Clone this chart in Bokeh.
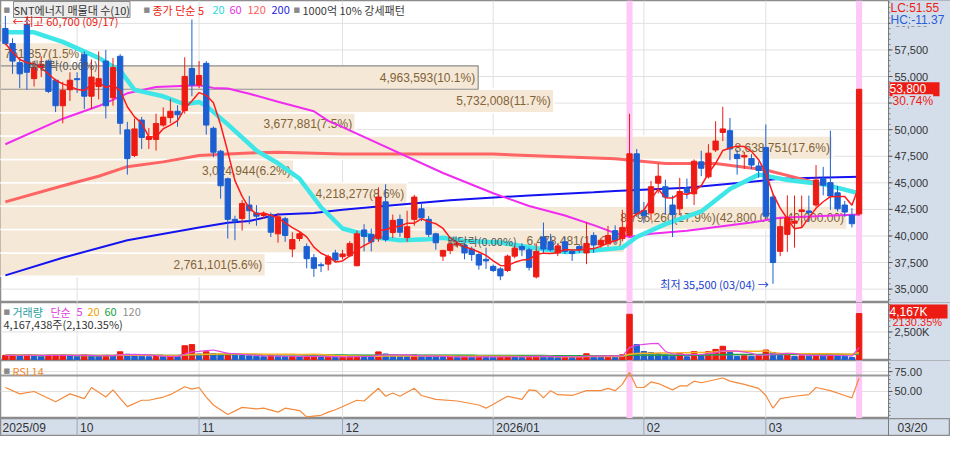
import numpy as np
import pandas as pd
from bokeh.plotting import figure
from bokeh.layouts import column
from bokeh.models import ColumnDataSource, Range1d, Label
from bokeh.core.properties import value
from bokeh.embed import file_html
from bokeh.resources import INLINE

# ---------------- data ----------------
start_date = "2025-09-17"
end_date = "2026-03-20"
holidays = ["2025-10-03", "2025-10-06", "2025-10-07", "2025-10-08", "2025-10-09", "2025-10-10",
            "2025-12-25", "2025-12-31", "2026-01-01", "2026-02-16", "2026-02-17", "2026-02-18",
            "2026-03-02"]

opens = [59520, 58100, 56300, 59900, 54800, 55850, 56450, 54650, 52250, 53750,
         54800, 57050, 53150, 54050, 56450, 53000, 56900, 49980, 47570, 50900,
         49080, 49080, 50430, 51130, 51730, 51790, 55760, 54200, 56240, 50130,
         47970, 45380, 41560, 41650, 42910, 42160, 41920, 42010, 40200, 41620,
         38770, 39760, 39000, 37950, 37290, 37350, 38400, 38040, 38130, 37200,
         40570, 40150, 39750, 43210, 40320, 41560, 39850, 41560, 42550, 41560,
         40200, 38100, 38640, 39150, 39150, 38770, 38250, 37800, 37140, 36900,
         36750, 38100, 39000, 38700, 36150, 39900, 39450, 38400, 39450, 38550,
         39000, 38400, 40050, 39150, 39300, 40500, 39750, 40060, 47730, 42400,
         42160, 44960, 44630, 42910, 42550, 44510, 43960, 46970, 45560, 48090,
         49740, 49900, 47670, 47430, 47280, 46580, 48330, 43660, 38550, 40150,
         41200, 42300, 42350, 42910, 45380, 45020, 44060, 42910, 41950, 42070]
highs = [60700, 58600, 56750, 60500, 56450, 56900, 56600, 54800, 54500, 55400,
         55400, 57350, 56600, 57350, 57500, 56750, 57100, 50730, 51050, 51200,
         50150, 51500, 52100, 52900, 52300, 56810, 60360, 56450, 56450, 50300,
         48100, 45500, 41900, 43370, 43750, 42900, 42300, 42200, 42160, 41800,
         40350, 40350, 39300, 38300, 37500, 38250, 38700, 38700, 39500, 40500,
         41110, 40700, 44570, 44870, 42010, 42010, 42370, 43870, 43000, 41860,
         40300, 38700, 39600, 39500, 39300, 39000, 38400, 38900, 37300, 37050,
         38250, 39100, 39300, 38900, 39300, 41260, 40200, 39300, 39900, 38700,
         39200, 41260, 40350, 39800, 40950, 41000, 42460, 51490, 48180, 43200,
         45170, 46820, 45300, 43800, 45470, 45400, 47200, 48020, 48630, 50790,
         52150, 51100, 48100, 47900, 47700, 47000, 50490, 43900, 41710, 43820,
         43800, 43800, 43800, 46670, 46500, 49900, 44700, 43300, 42600, 53800]
lows = [57950, 55250, 53900, 53750, 54050, 54950, 53450, 51650, 50600, 52700,
        53450, 51950, 51950, 52850, 51050, 52250, 49550, 45770, 47420, 48180,
        48180, 48030, 50280, 50600, 50280, 51500, 53140, 53900, 49530, 47420,
        43510, 39750, 39600, 40500, 41110, 40960, 41600, 39900, 39360, 39450,
        38000, 39500, 36960, 36150, 36600, 36750, 37500, 37800, 38000, 37140,
        38550, 38550, 39450, 39450, 39800, 39900, 39450, 40960, 41400, 39900,
        38700, 37650, 38300, 38900, 37800, 37650, 36830, 36900, 36600, 35840,
        36600, 37900, 38100, 36750, 36000, 38400, 38550, 38100, 38300, 37650,
        38400, 37350, 38400, 38900, 39000, 39300, 39500, 39900, 41800, 41200,
        41500, 44000, 42010, 39900, 42000, 43500, 42910, 45620, 45400, 47900,
        48930, 47120, 45770, 46300, 46300, 45470, 41600, 35500, 38100, 38500,
        38900, 40800, 41300, 42700, 43820, 42460, 42300, 41800, 40800, 41900]
closes = [58100, 56450, 55250, 55400, 55850, 56150, 53600, 52250, 53700, 54650,
          54700, 53150, 54950, 54800, 52250, 55850, 50600, 47270, 50070, 49260,
          49350, 50580, 51180, 51730, 51400, 55010, 54200, 55100, 50430, 47880,
          44720, 41560, 41410, 43060, 42370, 41860, 42070, 40350, 41800, 40050,
          39660, 40200, 37860, 36960, 37200, 38040, 37740, 38310, 39280, 40200,
          39960, 39450, 43660, 39660, 41470, 40350, 40870, 43660, 41710, 40150,
          39360, 38640, 39240, 39300, 38400, 38250, 37260, 37650, 36750, 36240,
          38100, 38850, 38700, 37050, 38550, 38770, 38700, 39060, 38550, 38340,
          38700, 39300, 39150, 39600, 40050, 39600, 40800, 47730, 42160, 41900,
          44630, 45620, 43660, 42010, 44180, 44060, 47030, 46370, 47790, 48930,
          50070, 48180, 47280, 47580, 46670, 46160, 41860, 37500, 40870, 41710,
          41400, 42450, 42200, 45260, 44780, 43760, 42550, 42250, 41150, 53800]
volumes = [380000, 420000, 360000, 450000, 330000, 300000, 390000, 410000, 430000, 350000,
           300000, 420000, 330000, 310000, 380000, 350000, 700000, 480000, 400000, 300000,
           250000, 320000, 280000, 300000, 260000, 1250000, 1350000, 500000, 700000, 520000,
           480000, 560000, 380000, 360000, 330000, 300000, 260000, 340000, 300000, 280000,
           300000, 240000, 290000, 320000, 230000, 250000, 200000, 220000, 260000, 380000,
           300000, 250000, 690000, 500000, 340000, 300000, 280000, 420000, 300000, 260000,
           250000, 220000, 260000, 200000, 230000, 220000, 260000, 240000, 210000, 250000,
           300000, 260000, 230000, 280000, 330000, 300000, 240000, 220000, 250000, 230000,
           250000, 520000, 300000, 260000, 300000, 280000, 430000, 4100000, 1350000, 720000,
           630000, 520000, 430000, 290000, 570000, 250000, 720000, 430000, 720000, 920000,
           1200000, 630000, 290000, 350000, 290000, 350000, 860000, 630000, 430000, 520000,
           290000, 340000, 300000, 490000, 340000, 360000, 330000, 300000, 186851, 4167438]

# moving averages (candle index, price)
ma20_idx = [0, 4, 8, 13, 16, 18, 22, 25, 27, 28, 31, 35, 38, 41, 44, 47, 50, 52, 55, 59,
            61, 64, 69, 73, 78, 82, 86, 88, 92, 97, 101, 105, 106, 109, 114, 119]
ma20_val = [59160, 59160, 58260, 56750, 55550, 53740, 53140, 52390, 52600, 52240, 50500, 48030,
            46840, 45400, 42700, 40700, 40160, 39830, 39590, 39680, 39830, 39530, 39380, 38930,
            38480, 38630, 38900, 39900, 41110, 42310, 44420, 45770, 45650, 45260, 44870, 44000]
ma60_idx = [0, 8, 13, 17, 21, 27, 29, 31, 34, 38, 43, 45, 47, 61, 68, 73, 78, 82, 85, 87,
            90, 95, 104, 108, 113, 119]
ma60_val = [48630, 51030, 52220, 53420, 54020, 54170, 53930, 53870, 53380, 52630, 51730, 50830,
            50230, 45920, 44020, 42820, 41920, 41020, 40270, 39900, 40210, 40500, 41260, 41710,
            41860, 42010]
ma120_idx = [0, 8, 13, 17, 22, 27, 31, 34, 38, 47, 68, 85, 92, 99, 106, 113, 119]
ma120_val = [43210, 44720, 45620, 46520, 46970, 47570, 47720, 47810, 47870, 47720, 47700, 47270,
             46820, 46820, 46210, 45020, 44060]
ma200_idx = [0, 8, 17, 27, 31, 34, 38, 43, 47, 52, 62, 73, 82, 85, 95, 104, 108, 113, 119]
ma200_val = [36290, 37950, 39600, 40790, 41240, 41410, 42010, 42160, 42460, 42760, 43360, 43810,
             44110, 44240, 44530, 45110, 45380, 45470, 45560]

rsi_idx = [0, 2, 4, 7, 9, 11, 12, 14, 15, 17, 19, 20, 22, 23, 25, 26, 27, 28, 29, 31,
           33, 35, 36, 38, 39, 41, 42, 44, 45, 46, 49, 50, 52, 53, 54, 55, 57, 58, 60, 63,
           66, 67, 68, 70, 72, 73, 74, 75, 76, 77, 79, 81, 83, 84, 85, 86, 87, 88, 89, 90,
           91, 93, 94, 95, 96, 97, 100, 101, 103, 105, 106, 107, 108, 110, 112, 113, 115, 117, 118, 119]
rsi_val = [55, 47, 50, 37, 47, 41, 55, 43, 52, 31, 39, 39, 43, 46, 56, 53, 55, 43, 33, 21,
           30, 28, 29, 24, 29, 26, 18, 20, 24, 27, 39, 38, 54, 44, 48, 44, 54, 45, 40, 38,
           33, 29, 34, 44, 40, 52, 51, 42, 51, 46, 45, 51, 51, 54, 51, 59, 74, 55, 55, 62,
           60, 52, 57, 57, 63, 61, 67, 63, 59, 54, 45, 29, 41, 44, 46, 55, 51, 45, 42, 67]

# volume-profile bands (bottom to top)
band_low = [36200, 38400, 40600, 42800, 45000, 47200, 49400, 51600, 53800, 56000]
band_step = 2200
band_vol = [2761101, 6478481, 8796260, 4218277, 3024944, 8638751, 3677881, 5732008, 4963593, 751857]
band_pct = [5.6, 13.2, 17.9, 8.6, 6.2, 17.6, 7.5, 11.7, 10.1, 1.5]

price_ticks = [35000, 37500, 40000, 42500, 45000, 47500, 50000, 52500, 55000, 57500, 60000]
vol_ticks = [2500000]
rsi_ticks = [50, 75]
rsi_level = 70

# ---------------- layout / style ----------------
FW, RB = 888, 62
H_MAIN, H_VOL, H_RSI, H_DATE = 302, 58, 58, 18
X0, X1 = -0.68, 123.1
PX = (X1 - X0) / FW            # index units per pixel
XMAX = X1 + RB * PX
P0, P1 = 33740, 62150
V0, V1 = -90000, 5170000
R0, R1 = 16, 89
REF_W = 905.0
BAND_PX_PER_PCT = 48.2
AXBG = "#d4deeb"
GRID = "#e0e0e0"
RED = "#ec1b13"
BLUE = "#1c5fd2"
PINK = "#ffc9f7"
KF = "Noto Sans CJK KR"
NF = "Liberation Sans"

dates = [d for d in pd.bdate_range(start_date, end_date) if d.strftime("%Y-%m-%d") not in holidays]
n = len(dates)
idx = list(range(n))
month_idx, month_lab = [], []
for i in range(1, n):
    if dates[i].month != dates[i - 1].month:
        month_idx.append(i)
        month_lab.append(dates[i].strftime("%Y/%m") if dates[i].month == 1 else dates[i].strftime("%m"))

sig_idx = [i for i in range(1, n)
           if closes[i] / closes[i - 1] - 1 >= 0.10 and closes[i] * volumes[i] >= 1e11]

xr = Range1d(X0, XMAX)


def make(h, y0, y1):
    f = figure(frame_width=FW + RB, frame_height=h, x_range=xr, y_range=Range1d(y0, y1),
               output_backend="svg", toolbar_location=None,
               x_axis_location=None, y_axis_location=None,
               min_border_left=0, min_border_right=0, min_border_top=0, min_border_bottom=0)
    f.border_fill_color = "white"
    f.background_fill_color = "white"
    f.outline_line_color = "#8c8c8c"
    f.outline_line_width = 1.5
    f.xgrid.grid_line_color = None
    f.ygrid.grid_line_color = None
    f.segment(x0=month_idx, x1=month_idx, y0=[y0] * len(month_idx), y1=[y1] * len(month_idx),
              line_color=GRID, line_width=1)
    return f


def hgrid(f, ticks):
    f.segment(x0=[X0] * len(ticks), x1=[X1] * len(ticks), y0=ticks, y1=ticks,
              line_color=GRID, line_width=1)


def raxis(f, y0, y1, ticks, labels, minor):
    f.quad(left=[X1], right=[XMAX + 1], bottom=[y0 - (y1 - y0)], top=[y1 + (y1 - y0)],
           fill_color=AXBG, line_color=None)
    f.segment(x0=[X1], x1=[X1], y0=[y0 - (y1 - y0)], y1=[y1 + (y1 - y0)],
              line_color="#7a7a7a", line_width=1)
    f.segment(x0=[X1] * len(minor), x1=[X1 + 2 * PX] * len(minor), y0=minor, y1=minor,
              line_color="#7a7a7a", line_width=1)
    f.segment(x0=[X1] * len(ticks), x1=[X1 + 4 * PX] * len(ticks), y0=ticks, y1=ticks,
              line_color="#555555", line_width=1)
    f.text(x=[X1] * len(ticks), y=ticks, text=labels, x_offset=6, text_font=value(NF),
           text_font_size="11px", text_color="#333333", text_align="left", text_baseline="middle")


def lab(fig, x, y, text, color, size=11, font=KF, xu="screen", yu="screen", align="left",
        bg=None, border=None):
    l = Label(x=x, y=y, x_units=xu, y_units=yu, text=text, text_color=color, text_font=font,
              text_font_size=f"{size}px", text_align=align, text_baseline="middle")
    if bg:
        l.background_fill_color = bg
    if border:
        l.border_line_color = border
    fig.add_layout(l)


# ---------------- main price panel ----------------
pm = make(H_MAIN, P0, P1)
hgrid(pm, price_ticks)

last_close = closes[-1]
band_high = [b + band_step for b in band_low]
band_right = [X0 + p * BAND_PX_PER_PCT * (X1 - X0) / REF_W for p in band_pct]
cur_band = [i for i in range(len(band_low)) if band_low[i] <= last_close < band_high[i]]
max_band = band_pct.index(max(band_pct))
others = [i for i in range(len(band_low)) if i not in cur_band]
pm.quad(left=[X0 - 1] * len(others), right=[band_right[i] for i in others],
        bottom=[band_low[i] for i in others], top=[band_high[i] for i in others],
        fill_color="#f6e8d6", line_color="white", line_width=1.5)
pm.quad(left=[X0 - 1] * len(cur_band), right=[band_right[i] for i in cur_band],
        bottom=[band_low[i] for i in cur_band], top=[band_high[i] for i in cur_band],
        fill_color="#f6e8d6", line_color="#8c8c8c", line_width=1.2)

btext = []
for i in range(len(band_low)):
    t = f"{band_vol[i]:,}({band_pct[i]}%)"
    if i == max_band:
        t += f"({band_high[i]:,.2f} ~ {band_low[i]:,.2f})"
    btext.append(t)
bmid = [(a + b) / 2 for a, b in zip(band_low, band_high)]
right_ids = [i for i in range(len(band_low)) if band_pct[i] >= 3]
left_ids = [i for i in range(len(band_low)) if band_pct[i] < 3]
pm.text(x=[band_right[i] for i in right_ids], y=[bmid[i] for i in right_ids],
        text=[btext[i] for i in right_ids], text_font=value(NF), text_font_size="12px",
        text_color="#7f6339", text_align="right", text_baseline="middle", x_offset=-3)
pm.text(x=[X0] * len(left_ids), y=[bmid[i] for i in left_ids],
        text=[btext[i] for i in left_ids], text_font=value(NF), text_font_size="12px",
        text_color="#7f6339", text_align="left", text_baseline="middle", x_offset=4)

pm.vbar(x=sig_idx, width=0.85, top=P1, bottom=P0, fill_color=PINK, line_color=None)

pm.line(ma200_idx, ma200_val, line_color="#1414f0", line_width=2)
pm.line(ma120_idx, ma120_val, line_color="#ff6464", line_width=3)
pm.line(ma60_idx, ma60_val, line_color="#f02cf0", line_width=2)
pm.line(ma20_idx, ma20_val, line_color="#3fe6e8", line_width=4.5)

ccol = [RED if c >= o else BLUE for o, c in zip(opens, closes)]
csrc = ColumnDataSource(dict(x=idx, h=highs, l=lows,
                             top=[max(o, c) for o, c in zip(opens, closes)],
                             bot=[min(o, c) for o, c in zip(opens, closes)], col=ccol))
pm.segment(x0="x", y0="l", x1="x", y1="h", line_color="col", line_width=1, source=csrc)
pm.vbar(x="x", width=0.74, top="top", bottom="bot", fill_color="col", line_color="col",
        line_width=1, source=csrc)
ma5 = pd.Series(closes).rolling(5, min_periods=1).mean().tolist()
pm.line(idx, ma5, line_color="#ff1a1a", line_width=1.5)

raxis(pm, P0, P1, price_ticks, [f"{t:,}" for t in price_ticks], list(range(34000, 62001, 500)))

# legend row
YL = H_MAIN - 9
lab(pm, 3, YL, "■", "#8a8a8a", size=7, font="DejaVu Sans")
lab(pm, 13, YL, "SNT에너지 매물대 수(10)", "#333333", bg="#ececec", border="#8c8c8c")
lab(pm, 143, YL, "■", "#8a8a8a", size=7, font="DejaVu Sans")
lab(pm, 152, YL, "종가 단순 5", RED)
lab(pm, 212, YL, "20", "#2ad8dc")
lab(pm, 229, YL, "60", "#e830e8")
lab(pm, 247, YL, "120", "#ff5a5a")
lab(pm, 271, YL, "200", "#2424e0")
lab(pm, 293, YL, "■", "#8a8a8a", size=7, font="DejaVu Sans")
lab(pm, 302, YL, "1000억 10% 강세패턴", "#3a3a3a")

hi_i = highs.index(max(highs))
lo_i = lows.index(min(lows))
lab(pm, 12, H_MAIN - 20, f"←최고 {max(highs):,} ({dates[hi_i].strftime('%m/%d')})", RED)
lab(pm, lo_i - 0.6, min(lows), f"최저 {min(lows):,} ({dates[lo_i].strftime('%m/%d')}) →", "#2040d0",
    xu="data", yu="data", align="right")
lab(pm, 28, H_MAIN - 64, "배당락(0.00%)", "#555555")
lab(pm, 447, H_MAIN - 240, "배당락(0.00%)", "#555555")

# right-side texts
lc = (last_close / min(lows) - 1) * 100
hc = (last_close / max(highs) - 1) * 100
lab(pm, FW + 2, H_MAIN - 7, f"LC:{lc:.2f}", RED, font=NF, size=12, bg=AXBG)
lab(pm, FW + 2, H_MAIN - 19, f"HC:{hc:.2f}", "#2a5bd7", font=NF, size=12, bg=AXBG)
ys_p = (last_close - P0) / (P1 - P0) * H_MAIN
chg = (last_close / closes[-2] - 1) * 100
lab(pm, FW + 1, ys_p, f"{last_close:,}    ", "white", font=NF, size=12, bg=RED)
lab(pm, FW + 4, ys_p - 12, f"{chg:.2f}%", RED, font=NF, size=12, bg=AXBG)

# ---------------- volume panel ----------------
pv = make(H_VOL, V0, V1)
hgrid(pv, vol_ticks)
pv.vbar(x=sig_idx, width=0.85, top=V1, bottom=V0, fill_color=PINK, line_color=None)
vcol = [RED if i == 0 or volumes[i] >= volumes[i - 1] else BLUE for i in range(n)]
pv.vbar(x=idx, width=0.76, top=volumes, bottom=0, fill_color=vcol, line_color=vcol)
vs = pd.Series(volumes)
pv.line(idx, vs.rolling(120, min_periods=1).mean().tolist(), line_color="#a0a0a0", line_width=1)
pv.line(idx, vs.rolling(60, min_periods=1).mean().tolist(), line_color="#22a046", line_width=1.5)
pv.line(idx, vs.rolling(20, min_periods=1).mean().tolist(), line_color="#f4b020", line_width=1.5)
pv.line(idx, vs.rolling(5, min_periods=1).mean().tolist(), line_color="#e448e4", line_width=1.2)
raxis(pv, V0, V1, vol_ticks, [f"{t // 1000:,}K" for t in vol_ticks], list(range(0, 5200001, 500000)))
vchg = (volumes[-1] / volumes[-2] - 1) * 100
YV = H_VOL - 9
lab(pv, 3, YV, "■", "#8a8a8a", size=7, font="DejaVu Sans")
lab(pv, 12, YV, "거래량", "#1f9e9e")
lab(pv, 50, YV, "단순", "#e040e0")
lab(pv, 76, YV, "5", "#e040e0")
lab(pv, 87, YV, "20", "#f0a000")
lab(pv, 104, YV, "60", "#20a040")
lab(pv, 122, YV, "120", "#909090")
lab(pv, 3, H_VOL - 21, f"{volumes[-1]:,}주({vchg:,.2f}%)", "#333333")
ys_v = (volumes[-1] - V0) / (V1 - V0) * H_VOL
lab(pv, FW + 1, ys_v + 2, f"{volumes[-1] / 1000:,.0f}K      ", "white", font=NF, size=12, bg=RED)
lab(pv, FW + 4, ys_v - 8, f"{vchg:.2f}%", RED, font=NF, size=11)

# ---------------- RSI panel ----------------
pr = make(H_RSI, R0, R1)
hgrid(pr, rsi_ticks)
pr.vbar(x=sig_idx, width=0.85, top=R1, bottom=R0, fill_color=PINK, line_color=None)
pr.segment(x0=[X0], x1=[X1], y0=[rsi_level], y1=[rsi_level], line_color="#9a9a9a", line_width=2)
pr.line(rsi_idx, rsi_val, line_color="#f58a3c", line_width=1.2)
raxis(pr, R0, R1, rsi_ticks, [f"{t:.2f}" for t in rsi_ticks], list(range(20, 90, 5)))
lab(pr, 3, H_RSI - 10, "■", "#8a8a8a", size=7, font="DejaVu Sans")
lab(pr, 12, H_RSI - 10, "RSI 14", "#f08a30")

# ---------------- date strip ----------------
pdx = make(H_DATE, 0, 1)
pdx.background_fill_color = AXBG
pdx.renderers[0].glyph.line_color = "#9aa6b8"
pdx.segment(x0=[X1], x1=[X1], y0=[0], y1=[1], line_color="#7a7a7a", line_width=1)
pdx.text(x=month_idx, y=[0.5] * len(month_idx), text=month_lab, text_font=value(NF),
         text_font_size="12px", text_color="#333333", text_baseline="middle", x_offset=3)
pdx.text(x=[X0], y=[0.5], text=[dates[0].strftime("%Y/%m")], text_font=value(NF),
         text_font_size="12px", text_color="#333333", text_baseline="middle", x_offset=2)
pdx.text(x=[X1], y=[0.5], text=[dates[-1].strftime("%m/%d")], text_font=value(NF),
         text_font_size="12px", text_color="#333333", text_baseline="middle", x_offset=9)

layout = column(pm, pv, pr, pdx)
open("out.html", "w").write(file_html(layout, INLINE))
